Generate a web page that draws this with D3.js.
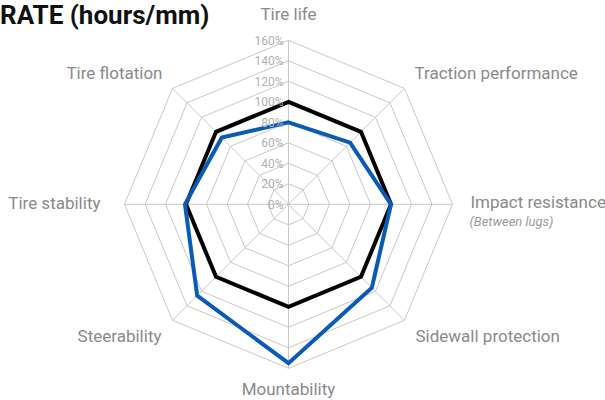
<!DOCTYPE html>
<meta charset="utf-8">
<style>
body {
	margin: 0;
	background-color: #ffffff;
	font-family: Roboto, "Noto Sans", sans-serif;
}
.title {
	font-weight: bold;
	font-size: 26px;
	fill: #111;
}
.axis-label {
	font-size: 17px;
	fill: #8a8a8a;
}
.axis-sub {
	font-size: 13px;
	font-style: italic;
	fill: #9a9a9a;
}
.tick-label {
	font-size: 12px;
	fill: #b0b0b0;
}
.grid {
	fill: none;
	stroke: #c8c8c8;
	stroke-width: 1;
}
</style>
<body>
<script src="https://d3js.org/d3.v7.min.js"></script>
<script>
var width = 605;
var height = 400;

var axes = ['Tire life', 'Traction performance', 'Impact resistance', 'Sidewall protection',
	'Mountability', 'Steerability', 'Tire stability', 'Tire flotation'];
var subLabels = ['', '', '(Between lugs)', '', '', '', '', ''];
var ticks = [0, 20, 40, 60, 80, 100, 120, 140, 160];
var seriesBlack = [100, 100, 100, 100, 100, 100, 100, 100];
var seriesBlue = [80, 85, 100, 115, 155, 126, 101, 92];

var cx = 288.5, cy = 204.3;
var r = d3.scaleLinear().domain([0, 160]).range([0, 164]);
var angle = function(i) { return i * 2 * Math.PI / axes.length; };

var svg = d3.select('body')
	.append('svg')
	.attr('width', width)
	.attr('height', height);

svg.append('text')
	.attr('class', 'title')
	.attr('x', 0)
	.attr('y', 24)
	.text('RATE (hours/mm)');

var g = svg.append('g')
	.attr('transform', 'translate(' + cx + ',' + cy + ')');

var radial = d3.lineRadial()
	.angle(function(d, i) { return angle(i); })
	.curve(d3.curveLinearClosed);

// rings
g.selectAll('.ring')
	.data(ticks.slice(1))
	.enter()
	.append('path')
	.attr('class', 'grid')
	.attr('d', function(t) {
		return radial.radius(function() { return r(t); })(axes);
	});

// spokes
g.selectAll('.spoke')
	.data(axes)
	.enter()
	.append('line')
	.attr('class', 'grid')
	.attr('x1', 0)
	.attr('y1', 0)
	.attr('x2', function(d, i) { return r(160) * Math.sin(angle(i)); })
	.attr('y2', function(d, i) { return -r(160) * Math.cos(angle(i)); });

// series
var seriesLine = d3.lineRadial()
	.angle(function(d, i) { return angle(i); })
	.radius(function(d) { return r(d); })
	.curve(d3.curveLinearClosed);

g.append('path')
	.datum(seriesBlack)
	.attr('d', seriesLine)
	.style('fill', 'none')
	.style('stroke', '#000')
	.style('stroke-width', 4)
	.style('stroke-linejoin', 'miter');

g.append('path')
	.datum(seriesBlue)
	.attr('d', seriesLine)
	.style('fill', 'none')
	.style('stroke', '#0a5bb8')
	.style('stroke-width', 4)
	.style('stroke-linejoin', 'miter');

// tick labels
g.selectAll('.tick-label')
	.data(ticks)
	.enter()
	.append('text')
	.attr('class', 'tick-label')
	.attr('x', -5)
	.attr('y', function(t) { return -r(t); })
	.attr('dy', '0.35em')
	.attr('text-anchor', 'end')
	.text(function(t) { return t + '%'; });

// axis labels
var labelPos = [
	{x: 0, y: -190, anchor: 'middle'},
	{x: 126, y: -131, anchor: 'start'},
	{x: 182, y: -2, anchor: 'start'},
	{x: 127, y: 132, anchor: 'start'},
	{x: 0, y: 185, anchor: 'middle'},
	{x: -127, y: 132, anchor: 'end'},
	{x: -188, y: -1, anchor: 'end'},
	{x: -126, y: -131, anchor: 'end'}
];

g.selectAll('.axis-label')
	.data(axes)
	.enter()
	.append('text')
	.attr('class', 'axis-label')
	.attr('x', function(d, i) { return labelPos[i].x; })
	.attr('y', function(d, i) { return labelPos[i].y; })
	.attr('dy', '0.35em')
	.attr('text-anchor', function(d, i) { return labelPos[i].anchor; })
	.text(function(d) { return d; });

g.selectAll('.axis-sub')
	.data(subLabels)
	.enter()
	.filter(function(d) { return d !== ''; })
	.append('text')
	.attr('class', 'axis-sub')
	.attr('x', function(d, i) { return labelPos[2].x - 1; })
	.attr('y', 17)
	.attr('dy', '0.35em')
	.text(function(d) { return d; });
</script>
</body>
